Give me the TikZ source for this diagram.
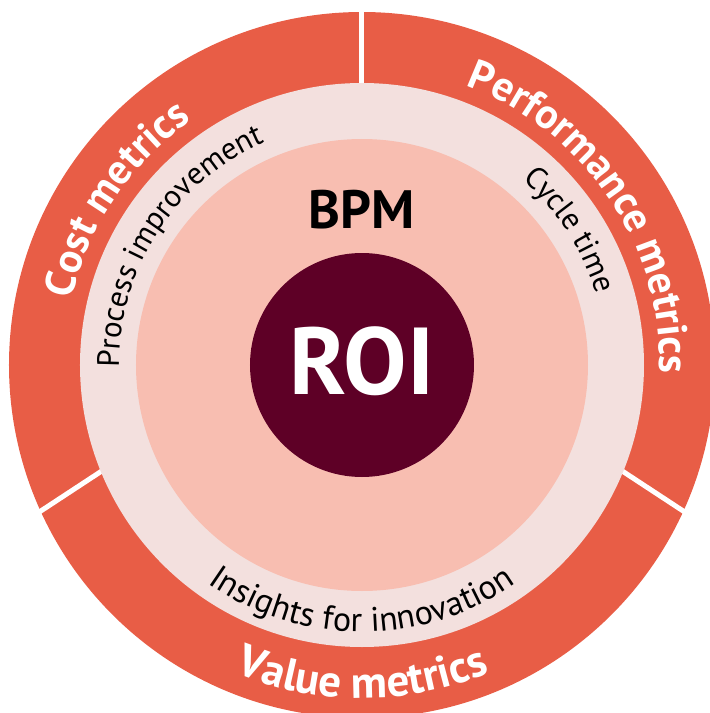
\documentclass[tikz,border=0pt]{standalone}
\usepackage{fontspec}
\setmainfont{PT Sans}
\usetikzlibrary{decorations.text}
\definecolor{ringred}{RGB}{232,93,70}
\definecolor{bandpink}{RGB}{243,224,222}
\definecolor{corepink}{RGB}{248,190,177}
\definecolor{roiwine}{RGB}{94,0,38}
\newcommand{\outerfont}{\fontsize{42}{44}\selectfont\bfseries}
\newcommand{\lowouterfont}{\fontsize{45}{47}\selectfont\bfseries}
\newcommand{\bandfont}{\fontsize{31}{33}\selectfont}
\newcommand{\lowbandfont}{\fontsize{34}{36}\selectfont}
\tikzset{
  ringtext/.style={decorate,decoration={text along path,text align=center,text color=white}},
  bandtext/.style={decorate,decoration={text along path,text align=center,text color=black}},
}
\begin{document}
\begin{tikzpicture}[x=1pt,y=1pt,line join=round]
  \useasboundingbox (-362,-348) rectangle (348,365);
  \clip (-362,-348) rectangle (348,365);
  % outer ring and its three cuts
  \fill[ringred] (0,0) circle (353);
  \foreach \xa/\ya/\xb/\yb in {0/270/0/372,-245/-96/-341/-159,245/-96/341/-159}{
    \draw[white,line width=5pt] (\xa,\ya)--(\xb,\yb);
  }
  % inner discs
  \fill[bandpink] (0,0) circle (282);
  \fill[corepink] (0,0) circle (226);
  \fill[roiwine] (0,0) circle (112);
  % centre labels
  \node[font=\fontsize{54}{56}\selectfont\bfseries,anchor=base] (bpm) at (0,137) {BPM};
  \node[font=\fontsize{95}{97}\selectfont\bfseries,text=white,anchor=base] (roi) at (0,-29) {ROI};
  % labels on the outer ring
  \path[ringtext,decoration={text={|\outerfont|Cost metrics}}]
    (196:298) arc[start angle=196,end angle=96,radius=298];
  \path[ringtext,decoration={text={|\outerfont|Performance metrics}}]
    (84:298) arc[start angle=84,end angle=-16,radius=298];
  \path[ringtext,decoration={text={|\lowouterfont|Value metrics}}]
    (220:333) arc[start angle=220,end angle=320,radius=333];
  % labels on the pale band
  \path[bandtext,decoration={text={|\bandfont|Process improvement}}]
    (197:243) arc[start angle=197,end angle=97,radius=243];
  \path[bandtext,decoration={text={|\bandfont|Cycle time}}]
    (83:245) arc[start angle=83,end angle=-17,radius=245];
  \path[bandtext,decoration={text={|\lowbandfont|Insights for innovation}}]
    (220:267) arc[start angle=220,end angle=320,radius=267];
\end{tikzpicture}
\end{document}
